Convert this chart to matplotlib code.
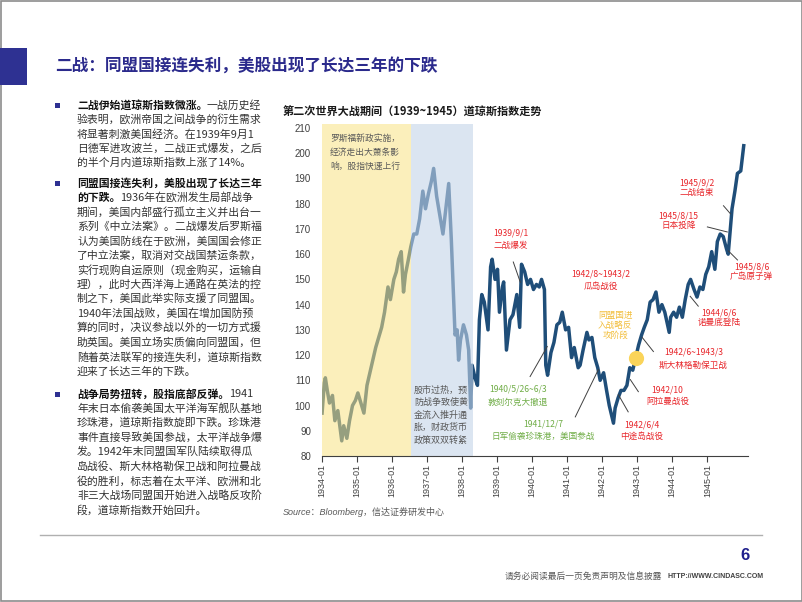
import pandas as pd
import matplotlib.pyplot as plt
import matplotlib.dates as mdates
from matplotlib.patches import Rectangle
from matplotlib.lines import Line2D

plt.rcParams['font.family'] = ['Noto Sans CJK SC', 'DejaVu Sans']

# Dow Jones index
dates = [
    "1934-01-02", "1934-01-25", "1934-02-05", "1934-02-25", "1934-03-20", "1934-04-20",
    "1934-05-15", "1934-06-15", "1934-07-26", "1934-08-15", "1934-09-17", "1934-10-15",
    "1934-11-15", "1934-12-15", "1935-01-10", "1935-02-10", "1935-03-14", "1935-04-15",
    "1935-05-15", "1935-06-15", "1935-07-15", "1935-08-15", "1935-09-15", "1935-10-15",
    "1935-11-20", "1935-12-15", "1936-01-20", "1936-02-15", "1936-03-10", "1936-04-06",
    "1936-04-30", "1936-05-20", "1936-06-15", "1936-07-15", "1936-08-15", "1936-09-15",
    "1936-10-15", "1936-11-17", "1936-12-15", "1937-01-15", "1937-02-15", "1937-03-10",
    "1937-04-10", "1937-05-15", "1937-06-15", "1937-07-15", "1937-08-14", "1937-09-10",
    "1937-10-19", "1937-11-10", "1937-11-25", "1937-12-15", "1938-01-15", "1938-02-15",
    "1938-03-10", "1938-03-31", "1938-04-15", "1938-05-15", "1938-06-10", "1938-06-30",
    "1938-07-25", "1938-08-20", "1938-09-28", "1938-10-25", "1938-11-10", "1938-12-10",
    "1939-01-05", "1939-01-25", "1939-02-25", "1939-03-10", "1939-04-08", "1939-05-15",
    "1939-06-15", "1939-07-25", "1939-08-24", "1939-09-12", "1939-10-15", "1939-11-15",
    "1939-12-15", "1940-01-15", "1940-02-15", "1940-03-15", "1940-04-08", "1940-05-08",
    "1940-05-22", "1940-06-10", "1940-07-15", "1940-08-15", "1940-09-15", "1940-10-15",
    "1940-11-10", "1940-12-15", "1941-01-15", "1941-02-15", "1941-03-15", "1941-04-25",
    "1941-05-15", "1941-06-15", "1941-07-25", "1941-08-15", "1941-09-15", "1941-10-15",
    "1941-11-15", "1941-12-10", "1942-01-15", "1942-02-15", "1942-03-15", "1942-04-28",
    "1942-05-15", "1942-06-15", "1942-07-15", "1942-08-15", "1942-09-15", "1942-10-15",
    "1942-11-15", "1942-12-15", "1943-01-15", "1943-02-15", "1943-03-15", "1943-04-15",
    "1943-05-15", "1943-06-15", "1943-07-15", "1943-08-15", "1943-09-15", "1943-10-15",
    "1943-11-30", "1943-12-15", "1944-01-15", "1944-02-15", "1944-03-15", "1944-04-15",
    "1944-05-15", "1944-06-15", "1944-07-10", "1944-08-15", "1944-09-15", "1944-10-15",
    "1944-11-15", "1944-12-15", "1945-01-15", "1945-02-15", "1945-03-20", "1945-04-15",
    "1945-05-15", "1945-06-15", "1945-07-20", "1945-08-06", "1945-08-15", "1945-09-15",
    "1945-10-15", "1945-11-10", "1945-12-15", "1946-01-15",
]
dji = [
    97, 109, 111, 106, 101, 104,
    94, 98, 86, 92, 87, 94,
    100, 102, 105, 101, 97, 108,
    113, 118, 123, 127, 131, 137,
    147, 142, 150, 153, 158, 161,
    145, 152, 157, 163, 168, 168,
    174, 185, 178, 184, 189, 194,
    183, 175, 168, 178, 188, 166,
    128, 130, 118, 126, 132, 128,
    122, 99, 116, 111, 108, 134,
    144, 141, 130, 155, 158, 150,
    154, 137, 147, 149, 122, 134,
    136, 144, 131, 156, 153, 148,
    150, 146, 148, 147, 150, 146,
    116, 112, 121, 125, 132, 133,
    137, 130, 131, 119, 123, 115,
    116, 122, 129, 126, 127, 119,
    115, 110, 113, 106, 100, 93,
    99, 103, 106, 106, 108, 115,
    114, 119, 124, 128, 131, 134,
    141, 142, 145, 137, 140, 137,
    129, 135, 137, 135, 139, 135,
    142, 148, 150, 146, 143, 147,
    146, 152, 155, 161, 154, 165,
    168, 167, 162, 160, 164, 178,
    185, 192, 193, 203,
]

band_edges = ["1934-01-01", "1936-07-16", "1938-04-22"]
band_texts = ["罗斯福新政实施，\n经济走出大萧条影\n响，股指快速上行",
              "股市过热，预\n防战争致使黄\n金流入推升通\n胀，财政货币\n政策双双转紧"]

# event labels: text, (decimal year, index level), colour
event_labels = [
    "1939/9/1\n二战爆发",
    "1940/5/26~6/3\n敦刻尔克大撤退",
    "1941/12/7\n日军偷袭珍珠港，美国参战",
    "1942/8~1943/2\n瓜岛战役",
    "同盟国进\n入战略反\n攻阶段",
    "1942/6~1943/3\n斯大林格勒保卫战",
    "1942/10\n阿拉曼战役",
    "1942/6/4\n中途岛战役",
    "1944/6/6\n诺曼底登陆",
    "1945/8/6\n广岛原子弹",
    "1945/8/15\n日本投降",
    "1945/9/2\n二战结束",
]
event_pos = [
    (1939.40, 166.0), (1939.60, 103.9), (1940.31, 90.2), (1941.97, 149.7),
    (1942.37, 131.8), (1944.60, 118.6), (1943.86, 103.9), (1943.14, 90.0),
    (1945.34, 134.8), (1946.26, 153.0), (1944.17, 173.2), (1944.71, 186.2),
]
event_colors = ["red", "green", "green", "red", "gold", "red",
                "red", "red", "red", "red", "red", "red"]
event_spacing = [1.5, 1.5, 1.5, 1.5, 1.15, 1.55, 1.35, 1.35, 1.05, 1.15, 1.15, 1.05]
leaders = [
    (1939.46, 156.9, 1939.66, 148.9),
    (1939.94, 111.5, 1940.43, 123.4),
    (1941.23, 95.5, 1941.89, 114.3),
    (1943.14, 127.0, 1943.46, 121.4),
    (1942.80, 110.3, 1943.03, 105.5),
    (1942.46, 104.3, 1942.74, 97.5),
    (1944.51, 143.3, 1944.74, 139.4),
    (1945.60, 161.3, 1945.86, 157.7),
    (1945.00, 170.8, 1945.57, 168.8),
    (1945.46, 179.2, 1945.66, 176.0),
]
turn_point = (1942.97, 119)

paragraphs = [
    [("二战伊始道琼斯指数微涨。", "一战历史经"),
     ("", "验表明，欧洲帝国之间战争的衍生需求"),
     ("", "将显著刺激美国经济。在1939年9月1"),
     ("", "日德军进攻波兰，二战正式爆发，之后"),
     ("", "的半个月内道琼斯指数上涨了14%。")],
    [("同盟国接连失利，美股出现了长达三年", ""),
     ("的下跌。", "1936年在欧洲发生局部战争"),
     ("", "期间，美国内部盛行孤立主义并出台一"),
     ("", "系列《中立法案》。二战爆发后罗斯福"),
     ("", "认为美国防线在于欧洲，美国国会修正"),
     ("", "了中立法案，取消对交战国禁运条款，"),
     ("", "实行现购自运原则（现金购买，运输自"),
     ("", "理），此时大西洋海上通路在英法的控"),
     ("", "制之下，美国此举实际支援了同盟国。"),
     ("", "1940年法国战败，美国在增加国防预"),
     ("", "算的同时，决议参战以外的一切方式援"),
     ("", "助英国。美国立场实质偏向同盟国，但"),
     ("", "随着英法联军的接连失利，道琼斯指数"),
     ("", "迎来了长达三年的下跌。")],
    [("战争局势扭转，股指底部反弹。", "1941"),
     ("", "年末日本偷袭美国太平洋海军舰队基地"),
     ("", "珍珠港，道琼斯指数旋即下跌。珍珠港"),
     ("", "事件直接导致美国参战，太平洋战争爆"),
     ("", "发。1942年末同盟国军队陆续取得瓜"),
     ("", "岛战役、斯大林格勒保卫战和阿拉曼战"),
     ("", "役的胜利，标志着在太平洋、欧洲和北"),
     ("", "非三大战场同盟国开始进入战略反攻阶"),
     ("", "段，道琼斯指数开始回升。")],
]
para_top = [105, 183, 394]

NAVY = "#2E3192"
LINE = "#1F4E79"
COLORS = {"red": "#E8262B", "green": "#70AD47", "gold": "#F2BE3C"}
W, H = 802, 602


def fx(px):
    return px / W


def fy(py):
    return 1 - py / H


def yr(v):
    return mdates.date2num(pd.Timestamp("1934-01-01")) + (v - 1934) * 365.25


fig = plt.figure(figsize=(W / 100, H / 100), dpi=100)

# slide frame, header square and title
fig.patches.append(Rectangle((fx(0.5), fy(601)), fx(801), 600 / H, transform=fig.transFigure,
                             fill=False, ec="#8C8C8C", lw=1.2))
fig.patches.append(Rectangle((0, fy(85)), fx(27), 37 / H, transform=fig.transFigure,
                             color=NAVY, lw=0))
fig.text(fx(55), fy(66), "二战：同盟国接连失利，美股出现了长达三年的下跌",
         fontsize=12, weight="bold", color="#2B2A8C", va="center")

# left text column
fs = 7.8
cw = fs * 100 / 72
step = 14.5
for top, para in zip(para_top, paragraphs):
    fig.patches.append(Rectangle((fx(55), fy(top + 2.5)), fx(5), 5 / H,
                                 transform=fig.transFigure, color=NAVY, lw=0))
    for i, (bold, normal) in enumerate(para):
        y = fy(top + i * step)
        if bold:
            fig.text(fx(77), y, bold, fontsize=fs, weight="bold", color="#111111", va="center")
        if normal:
            fig.text(fx(77 + len(bold) * cw), y, normal, fontsize=fs, color="#333333", va="center")

# chart
fig.text(fx(283), fy(112), "第二次世界大战期间（1939~1945）道琼斯指数走势",
         fontsize=8, weight="bold", color="#1A1A1A", va="center")

ax = fig.add_axes([fx(322), fy(456), (748 - 322) / W, (456 - 124) / H])
x = pd.to_datetime(dates)
ax.plot(x, dji, color=LINE, lw=2.5, zorder=2, solid_joinstyle="round")

edges = pd.to_datetime(band_edges)
ax.axvspan(edges[0], edges[1], color="#F9E284", alpha=0.55, lw=0, zorder=3)
ax.axvspan(edges[1], edges[2], color="#C3D4E9", alpha=0.6, lw=0, zorder=3)

ax.text(yr(1934.23), 207.5, band_texts[0], fontsize=6.3, color="#595959",
        va="top", ha="left", linespacing=1.65, zorder=5)
ax.text(yr(1936.63), 107.8, band_texts[1], fontsize=6.5, color="#595959",
        va="top", ha="left", linespacing=1.45, zorder=5)

for label, (ex, ey), c, ls in zip(event_labels, event_pos, event_colors, event_spacing):
    ax.text(yr(ex), ey, label, fontsize=6.2, color=COLORS[c], ha="center", va="center",
            linespacing=ls, zorder=6, clip_on=False)
for x1, y1, x2, y2 in leaders:
    ax.plot([yr(x1), yr(x2)], [y1, y2], color="#404040", lw=0.7, zorder=4)

ax.scatter([yr(turn_point[0])], [turn_point[1]], s=120, color="#FAD45A", lw=0, zorder=6)

ax.set_ylim(80, 211.6)
ax.set_xlim(yr(1934.0), yr(1946.16))
ax.set_yticks(range(80, 211, 10))
ax.set_xticks(pd.date_range("1934-01-01", "1945-01-01", freq="YS"))
ax.xaxis.set_major_formatter(mdates.DateFormatter("%Y-%m"))
ax.tick_params(axis="y", length=0, pad=8, labelsize=7, labelcolor="#404040")
ax.tick_params(axis="x", length=4, pad=2, labelsize=6.5, labelrotation=90,
               color="#404040", labelcolor="#404040")
for lbl in ax.get_xticklabels() + ax.get_yticklabels():
    lbl.set_fontfamily("Liberation Sans")
for s in ["top", "right", "left"]:
    ax.spines[s].set_visible(False)
ax.spines["bottom"].set_color("#404040")
ax.spines["bottom"].set_linewidth(0.8)
ax.spines["bottom"].set_zorder(4)
ax.set_facecolor("none")

fig.text(fx(283), fy(512), "Source：Bloomberg，信达证券研发中心", fontsize=6.5,
         style="italic", color="#595959", va="center",
         family=["Liberation Sans", "Noto Sans CJK SC"])

# footer
fig.lines.append(Line2D([fx(40), fx(762)], [fy(535), fy(535)], transform=fig.transFigure,
                        color="#B0B0B0", lw=1))
fig.text(fx(745), fy(556), "6", fontsize=12, weight="bold", color="#1F1F8C",
         ha="center", va="center", family="Liberation Sans")
fig.text(fx(505), fy(577), "请务必阅读最后一页免责声明及信息披露", fontsize=6.3,
         color="#595959", va="center")
fig.text(fx(668), fy(577), "HTTP://WWW.CINDASC.COM", fontsize=5, weight="bold",
         color="#404040", va="center", family="Liberation Sans")

fig.savefig("out.png", dpi=100)
